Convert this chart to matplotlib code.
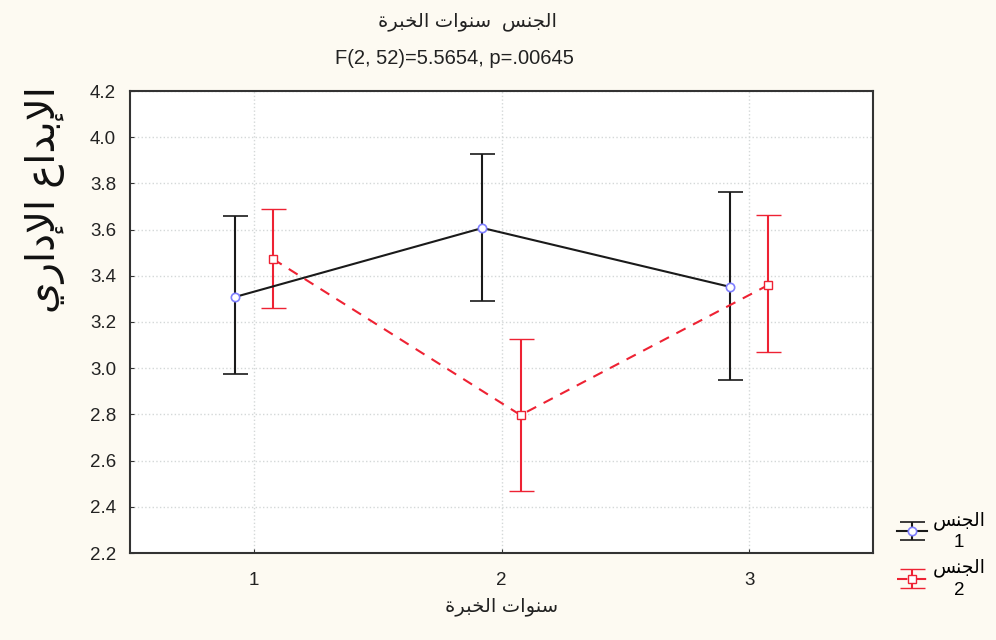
import matplotlib
matplotlib.use("Agg")
import matplotlib.pyplot as plt
import numpy as np

# Arabic strings written in presentation forms, visual (left-to-right) order,
# since matplotlib does not shape Arabic text itself
GENDER = "\uFEB2\uFEE8\uFEA0\uFEDF\uFE8D"
YEARS_EXP = "\uFE93\uFEAE\uFE92\uFEA8\uFEDF\uFE8D \uFE95\uFE8D\uFEEE\uFEE8\uFEB3"
Y_LABEL = "\uFEF1\uFEAD\uFE8D\uFEA9\uFEF9\uFE8D \uFEC9\uFE8D\uFEAA\uFE91\uFEF9\uFE8D"
TITLE_1 = YEARS_EXP + "  " + GENDER
TITLE_2 = "F(2, 52)=5.5654, p=.00645"

# data
groups = [1, 2, 3]
mean_1 = [3.308, 3.607, 3.352]
upper_1 = [3.659, 3.927, 3.763]
lower_1 = [2.975, 3.291, 2.949]
mean_2 = [3.473, 2.797, 3.360]
upper_2 = [3.689, 3.126, 3.663]
lower_2 = [3.261, 2.468, 3.070]
series_labels = [GENDER + "\n1", GENDER + "\n2"]
y_ticks = [2.2, 2.4, 2.6, 2.8, 3.0, 3.2, 3.4, 3.6, 3.8, 4.0, 4.2]

AR = ["Liberation Sans", "DejaVu Sans"]
plt.rcParams["font.family"] = ["Liberation Sans", "DejaVu Sans"]

fig = plt.figure(figsize=(9.96, 6.4), dpi=100, facecolor="#fdfaf2")
ax = fig.add_axes([130 / 996, 87 / 640, 743 / 996, 462 / 640])
ax.set_facecolor("white")

x = np.array(groups, dtype=float)
off = 0.077

# series 1 (black, solid)
m1 = np.array(mean_1)
e1 = [m1 - np.array(lower_1), np.array(upper_1) - m1]
h1 = ax.errorbar(x - off, m1, yerr=e1, color="#1a1a1a", lw=1.5, elinewidth=1.5,
                 capsize=9, capthick=2, marker="o", ms=6, mfc="white",
                 mec="#7f7fff", mew=1.2, zorder=3)

# series 2 (red, dashed)
m2 = np.array(mean_2)
e2 = [m2 - np.array(lower_2), np.array(upper_2) - m2]
h2 = ax.errorbar(x + off, m2, yerr=e2, color="#ee2233", lw=1.5, ls="--",
                 dashes=(5, 4), elinewidth=1.5, capsize=9, capthick=2,
                 marker="s", ms=6, mfc="white", mec="#ee2233", mew=1.0, zorder=3)
h2[-1][0].set_linestyle("-")

ax.set_xlim(0.5, 3.5)
ax.set_ylim(2.2, 4.2)
ax.set_xticks(groups)
ax.set_yticks(y_ticks)
ax.set_yticklabels([f"{v:.1f}" for v in y_ticks])
ax.grid(True, color="#d4d8d8", ls=":", lw=1.0)
ax.set_axisbelow(True)
ax.tick_params(direction="in", length=3, labelsize=13.5, colors="#333333",
               labelcolor="#222222")
ax.tick_params(axis="y", pad=10)
ax.tick_params(axis="x", pad=14)
for s in ax.spines.values():
    s.set_color("#333333")
    s.set_linewidth(1.5)

ax.set_xlabel(YEARS_EXP, fontsize=14, family=AR, color="#222222", labelpad=6)

fig.text(45 / 996, 1 - 200 / 640, Y_LABEL, rotation=90, fontsize=29,
         family=AR, ha="center", va="center", color="#111111")

fig.text(467 / 996, 1 - 22 / 640, TITLE_1, fontsize=14, family=AR,
         ha="center", va="center", color="#222222")
fig.text(454 / 996, 1 - 58 / 640, TITLE_2, fontsize=14.5,
         ha="center", va="center", color="#222222")

leg = fig.legend([h1, h2], series_labels, loc="upper left",
                 bbox_to_anchor=(880 / 996, 1 - 494 / 640), frameon=False,
                 handlelength=1.6, handletextpad=0.3,
                 labelspacing=0.4, prop={"family": AR, "size": 13.5})
for t in leg.get_texts():
    t.set_multialignment("center")
    t.set_linespacing(1.35)

fig.savefig("out.png", dpi=100, facecolor=fig.get_facecolor())
